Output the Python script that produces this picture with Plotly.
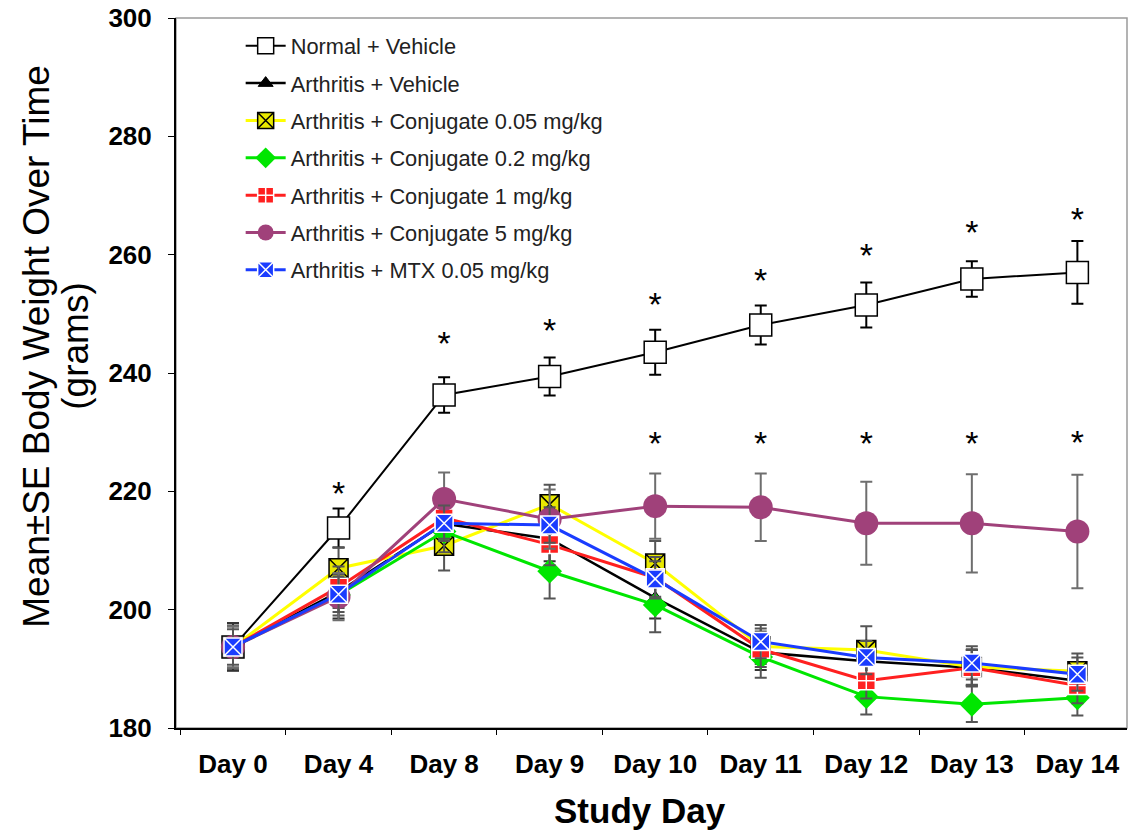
import plotly.graph_objects as go

days = ["Day 0", "Day 4", "Day 8", "Day 9", "Day 10", "Day 11", "Day 12", "Day 13", "Day 14"]

normal = [193.7, 213.8, 236.3, 239.4, 243.5, 248.1, 251.5, 255.9, 257.0]
normal_se = [4.0, 3.3, 3.0, 3.2, 3.8, 3.3, 3.8, 3.0, 5.3]
arth_veh = [193.7, 203.0, 214.5, 212.0, 202.0, 192.8, 191.3, 190.2, 188.0]
arth_veh_se = [4.0, 4.5, 4.0, 3.8, 3.5, 3.0, 3.0, 3.0, 3.0]
conj005 = [193.7, 207.0, 210.8, 217.8, 207.8, 193.8, 193.2, 190.3, 189.6]
conj005_se = [3.5, 3.5, 4.2, 3.3, 3.8, 3.0, 4.0, 3.0, 3.0]
conj02 = [193.7, 202.5, 213.2, 206.5, 200.8, 192.0, 185.3, 184.0, 185.1]
conj02_se = [3.5, 3.5, 3.5, 4.6, 4.6, 3.5, 3.0, 3.0, 3.0]
conj1 = [193.7, 203.8, 215.5, 211.0, 205.4, 193.3, 188.0, 190.2, 187.2]
conj1_se = [3.5, 3.5, 3.5, 3.5, 3.5, 3.0, 3.0, 3.0, 3.0]
conj5 = [193.7, 202.2, 218.7, 215.3, 217.5, 217.3, 214.6, 214.6, 213.2]
conj5_se = [3.5, 4.0, 4.5, 5.0, 5.5, 5.7, 7.0, 8.3, 9.6]
mtx = [193.7, 202.6, 214.6, 214.3, 205.2, 194.6, 191.9, 191.0, 189.1]
mtx_se = [3.0, 3.0, 3.0, 3.0, 3.0, 2.8, 2.8, 2.8, 2.8]

star_days_normal = ["Day 4", "Day 8", "Day 9", "Day 10", "Day 11", "Day 12", "Day 13", "Day 14"]
star_y_normal = [219.2, 244.4, 246.6, 251.0, 255.2, 259.3, 263.3, 265.4]
star_days_conj5 = ["Day 10", "Day 11", "Day 12", "Day 13", "Day 14"]
star_y_conj5 = [227.5, 227.5, 227.5, 227.5, 227.7]

series = [
    ("Normal + Vehicle", normal, normal_se, "black", 2,
     dict(symbol="square", size=22, color="white", line=dict(color="black", width=1.5)), "black"),
    ("Arthritis + Vehicle", arth_veh, arth_veh_se, "black", 2.5,
     dict(symbol="triangle-up", size=13, color="black", line=dict(color="black", width=1)), "#333333"),
    ("Arthritis + Conjugate 0.05 mg/kg", conj005, conj005_se, "#FFFF00", 3,
     dict(symbol="square-x", size=19, color="#E8E800", line=dict(color="black", width=1.5)), "#555555"),
    ("Arthritis + Conjugate 0.2 mg/kg", conj02, conj02_se, "#00E600", 3,
     dict(symbol="diamond", size=19, color="#00E600", line=dict(color="#00E600", width=0)), "#555555"),
    ("Arthritis + Conjugate 1 mg/kg", conj1, conj1_se, "#FF2020", 3,
     dict(symbol="square-cross", size=18, color="#FF2020", line=dict(color="white", width=1.5)), "#555555"),
    ("Arthritis + Conjugate 5 mg/kg", conj5, conj5_se, "#A0417A", 3,
     dict(symbol="circle", size=24, color="#A0417A", line=dict(color="#A0417A", width=0)), "#6E6E6E"),
    ("Arthritis + MTX 0.05 mg/kg", mtx, mtx_se, "#1A3CFF", 3,
     dict(symbol="square-x", size=18, color="#1A3CFF", line=dict(color="white", width=1.5)), "#555555"),
]

fig = go.Figure()
for i, (name, ys, se, col, lw, mk, ecol) in enumerate(series):
    fig.add_trace(go.Scatter(
        x=days, y=ys, name=name, mode="lines+markers",
        line=dict(color=col, width=lw), marker=mk,
        legendgroup="g%d" % i,
        error_y=dict(type="data", array=se, visible=True, color=ecol, thickness=2, width=6),
    ))

star_font = dict(size=34, color="black", family="Liberation Sans")
fig.add_trace(go.Scatter(x=star_days_normal, y=star_y_normal, mode="text", text=["*"] * len(star_days_normal),
                         textfont=star_font, showlegend=False, textposition="middle center"))
fig.add_trace(go.Scatter(x=star_days_conj5, y=star_y_conj5, mode="text", text=["*"] * len(star_days_conj5),
                         textfont=star_font, showlegend=False, textposition="middle center"))

fig.add_shape(type="rect", xref="paper", yref="paper", x0=0, x1=1, y0=0, y1=1,
              line=dict(color="#9a9a9a", width=1.5), layer="below")

fig.add_annotation(text="Mean±SE Body Weight Over Time", xref="paper", yref="paper",
                   x=0, y=0.537, xanchor="center", yanchor="middle", xshift=-139,
                   textangle=-90, showarrow=False,
                   font=dict(size=37, family="Liberation Sans", color="black"))
fig.add_annotation(text="(grams)", xref="paper", yref="paper",
                   x=0, y=0.537, xanchor="center", yanchor="middle", xshift=-100,
                   textangle=-90, showarrow=False,
                   font=dict(size=37, family="Liberation Sans", color="black"))
fig.add_annotation(text="<b>Study Day</b>", xref="paper", yref="paper",
                   x=0.488, y=0, xanchor="center", yanchor="middle", yshift=-82,
                   showarrow=False,
                   font=dict(size=35, family="Liberation Sans", color="black"))

fig.update_layout(
    width=1134, height=837,
    margin=dict(l=176, r=7, t=18, b=109),
    paper_bgcolor="white", plot_bgcolor="white",
    font=dict(family="Liberation Sans", color="black"),
    legend=dict(x=0.068, y=0.99, xanchor="left", yanchor="top",
                font=dict(size=21.8, color="#222222"), bgcolor="rgba(0,0,0,0)",
                tracegroupgap=6, itemwidth=40),
    xaxis=dict(
        range=[-0.54, 8.47], showgrid=False, zeroline=False, automargin=False,
        showline=True, linecolor="black", linewidth=2,
        ticks="outside", tickson="boundaries", ticklen=5, tickcolor="black",
        ticklabelstandoff=12,
        tickfont=dict(size=26, family="Liberation Sans", color="black", weight="bold"),
    ),
    yaxis=dict(
        range=[180, 300], dtick=20, showgrid=False, zeroline=False, automargin=False,
        showline=True, linecolor="black", linewidth=2,
        ticks="outside", ticklen=6, tickcolor="black",
        ticklabelstandoff=11,
        tickfont=dict(size=26, family="Liberation Sans", color="black", weight="bold"),
    ),
)

fig.write_html("out.html")
